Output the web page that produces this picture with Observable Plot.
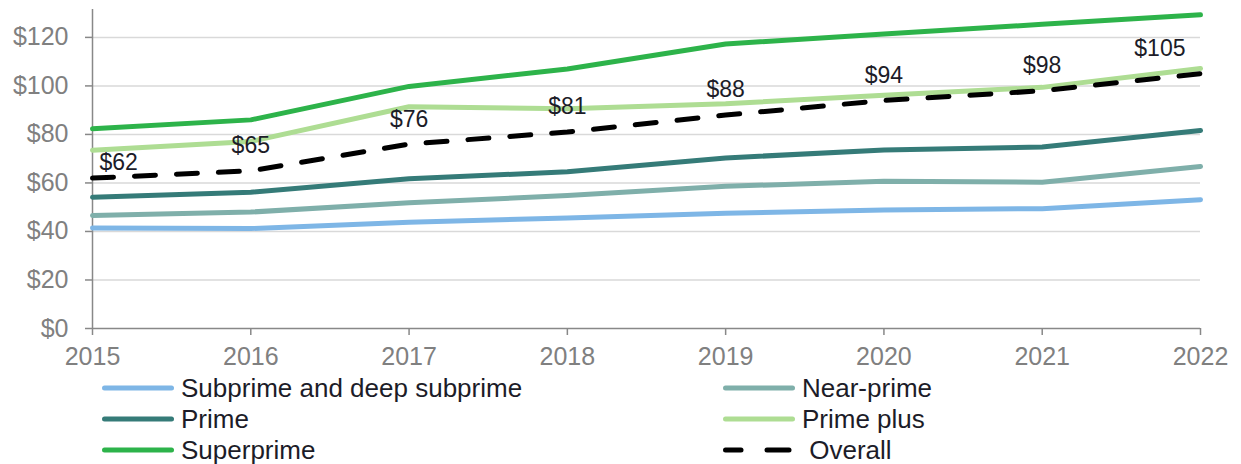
<!DOCTYPE html>
<html>
<head>
<meta charset="utf-8">
<script src="https://cdn.jsdelivr.net/npm/d3@7"></script>
<script src="https://cdn.jsdelivr.net/npm/@observablehq/plot@0.6"></script>
<style>
  body { margin: 0; background: #fff; font-family: "Liberation Sans", Arial, sans-serif; }
  #chart svg { display: block; }
  .legend { position: relative; width: 1241px; height: 92px; font-size: 26px; color: #1c1c28; }
  .item { position: absolute; display: flex; align-items: center; height: 30px; white-space: nowrap; }
  .item svg { display: block; margin-right: 6px; }
</style>
</head>
<body>
<div id="chart"></div>
<div class="legend" id="legend"></div>
<script>
const years = [2015, 2016, 2017, 2018, 2019, 2020, 2021, 2022];
const subprime   = [41.4, 41.2, 43.8, 45.6, 47.5, 48.9, 49.4, 53.1];
const nearPrime  = [46.6, 48.0, 51.8, 54.8, 58.6, 60.7, 60.3, 66.8];
const prime      = [54.1, 56.2, 61.7, 64.6, 70.3, 73.6, 74.8, 81.6];
const primePlus  = [73.5, 77.1, 91.4, 90.6, 92.6, 96.2, 99.4, 107.2];
const superprime = [82.3, 86.0, 99.8, 107.0, 117.3, 121.4, 125.4, 129.3];
const overall    = [62, 65, 76, 81, 88, 94, 98, 105];
const seriesNames = ["Subprime and deep subprime", "Near-prime", "Prime", "Prime plus", "Superprime", "Overall"];
const seriesColors = ["#7eb6e6", "#7fafaa", "#357b78", "#aedd93", "#2db34a", "#000000"];
const yTicks = [0, 20, 40, 60, 80, 100, 120];

const seriesValues = [subprime, nearPrime, prime, primePlus, superprime];
const solid = [];
seriesValues.forEach((vals, i) => vals.forEach((v, j) => solid.push({series: seriesNames[i], year: years[j], value: v})));
const overallData = overall.map((v, j) => ({series: "Overall", year: years[j], value: v}));
const n = overallData.length;

const font = "Liberation Sans, Arial, sans-serif";
const chart = Plot.plot({
  width: 1241,
  height: 372,
  marginLeft: 92,
  marginRight: 41,
  marginTop: 9,
  marginBottom: 44,
  style: {fontFamily: font, background: "#fff"},
  x: {domain: [2015, 2022], axis: null},
  y: {domain: [0, 131.5], axis: null},
  color: {domain: seriesNames, range: seriesColors},
  marks: [
    Plot.gridY(yTicks.filter(d => d > 0), {stroke: "#d9d9d9", strokeOpacity: 1, strokeWidth: 1.5}),
    Plot.axisY({ticks: yTicks, tickFormat: d => "$" + d, label: null, tickSize: 7, tickPadding: 17, fontSize: 25, color: "#808080", stroke: "#888", strokeWidth: 1.5}),
    Plot.axisX({ticks: years, tickFormat: d => String(d), label: null, tickSize: 7, tickPadding: 12, fontSize: 25, color: "#808080", stroke: "#888", strokeWidth: 1.5}),
    Plot.ruleX([2015], {y1: 0, y2: 131.5, stroke: "#888", strokeWidth: 1.5}),
    Plot.ruleY([0], {stroke: "#888", strokeWidth: 1.5}),
    Plot.line(solid, {x: "year", y: "value", z: "series", stroke: "series", strokeWidth: 5, strokeLinejoin: "round"}),
    Plot.line(overallData, {x: "year", y: "value", stroke: "series", strokeWidth: 5, strokeDasharray: "21,21"}),
    Plot.text(overallData.slice(0, 1), {x: "year", y: "value", text: d => "$" + d.value, textAnchor: "start", dx: 7, dy: -15, fontSize: 23, fill: "#1c1c28"}),
    Plot.text(overallData.slice(1, n - 1), {x: "year", y: "value", text: d => "$" + d.value, dy: -25, fontSize: 23, fill: "#1c1c28"}),
    Plot.text(overallData.slice(n - 1), {x: "year", y: "value", text: d => "$" + d.value, textAnchor: "end", dx: -15, dy: -25, fontSize: 23, fill: "#1c1c28"})
  ]
});
document.getElementById("chart").appendChild(chart);

// Legend (two columns, filled row by row)
const legend = document.getElementById("legend");
const colX = [101, 722];
const rowY = [1, 32, 63];
seriesNames.forEach((name, i) => {
  const col = i % 2, row = Math.floor(i / 2);
  const item = document.createElement("div");
  item.className = "item";
  item.style.left = colX[col] + "px";
  item.style.top = rowY[row] + "px";
  const dashed = name === "Overall";
  const swatch = dashed
    ? `<line x1="3.5" y1="5" x2="19" y2="5" stroke="${seriesColors[i]}" stroke-width="5" stroke-linecap="round"/><line x1="45" y1="5" x2="67" y2="5" stroke="${seriesColors[i]}" stroke-width="5" stroke-linecap="round"/>`
    : `<line x1="3.5" y1="5" x2="70.5" y2="5" stroke="${seriesColors[i]}" stroke-width="5" stroke-linecap="round"/>`;
  item.innerHTML = `<svg width="74" height="10">${swatch}</svg><span>${dashed ? "&nbsp;" : ""}${name}</span>`;
  legend.appendChild(item);
});
</script>
</body>
</html>
